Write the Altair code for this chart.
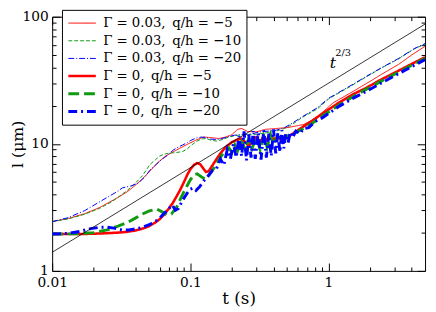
import altair as alt
import pandas as pd

FONT = "DejaVu Serif"

series_names = [
    "Γ = 0.03,\u2002q/h = −5",
    "Γ = 0.03,\u2002q/h = −10",
    "Γ = 0.03,\u2002q/h = −20",
    "Γ = 0,\u2002q/h = −5",
    "Γ = 0,\u2002q/h = −10",
    "Γ = 0,\u2002q/h = −20",
]
colors = ["#ff0000", "#129a12", "#0000ff", "#ff0000", "#129a12", "#0000ff"]
dashes = [[1, 0], [4, 2], [6, 2, 1, 2], [1, 0], [11, 5], [9, 4, 2, 4]]
widths = [1.0, 1.0, 1.0, 2.6, 3.0, 3.0]

t_a = [0.01, 0.013, 0.0172, 0.022, 0.0297, 0.035, 0.0389, 0.045, 0.051, 0.0573, 0.065, 0.0752,
       0.085, 0.095, 0.11, 0.125, 0.14, 0.16, 0.18, 0.2, 0.22, 0.235, 0.26, 0.3, 0.35, 0.42, 0.5,
       0.58, 0.66, 0.75, 0.83, 1.0, 1.08, 1.43, 2.0, 2.45, 3.2, 4.0, 5.0]
l_a = [2.44, 2.58, 2.82, 3.15, 3.76, 4.2, 4.6, 5.3, 6.1, 7.0, 7.9, 8.66,
       9.3, 9.9, 10.7, 11.3, 11.2, 11.0, 11.3, 11.8, 13.0, 13.2, 12.5, 12.4, 13.0, 13.2, 13.4,
       13.8, 14.2, 15.2, 16.3, 19.5, 21.0, 25.0, 31.0, 35.5, 42.0, 50.0, 58.5]

t_b = [0.01, 0.013, 0.017, 0.022, 0.027, 0.03, 0.035, 0.04, 0.045, 0.051, 0.056, 0.06, 0.065,
       0.07, 0.075, 0.08, 0.088, 0.095, 0.1, 0.11, 0.12, 0.13, 0.14, 0.155, 0.17, 0.19, 0.21, 0.24,
       0.28, 0.32, 0.37, 0.42, 0.48, 0.55, 0.65, 0.83, 1.0, 1.43, 2.0, 2.45, 3.2, 4.2, 5.0]
l_b = [2.44, 2.56, 2.78, 3.1, 3.5, 3.8, 4.3, 4.9, 5.6, 6.87, 7.5, 8.0, 8.3,
       8.45, 8.5, 8.55, 8.7, 9.1, 9.6, 10.4, 10.9, 11.0, 10.7, 10.5, 10.8, 11.3, 11.6, 11.8,
       11.8, 12.0, 12.3, 12.6, 13.2, 14.3, 16.2, 18.8, 22.5, 28.2, 35.0, 39.8, 46.5, 56.0, 61.0]

t_c = [0.01, 0.013, 0.0172, 0.0226, 0.0297, 0.0322, 0.037, 0.042, 0.047, 0.051, 0.056, 0.06,
       0.065, 0.07, 0.075, 0.08, 0.088, 0.095, 0.1, 0.11, 0.12, 0.13, 0.14, 0.155, 0.17, 0.19,
       0.21, 0.24, 0.28, 0.32, 0.37, 0.42, 0.48, 0.55, 0.65, 0.83, 1.0, 1.43, 2.0, 2.45, 3.2,
       4.2, 5.0]
l_c = [2.44, 2.62, 2.98, 3.55, 4.22, 4.5, 4.65, 4.9, 5.5, 6.2, 6.8, 7.3,
       7.8, 8.3, 8.9, 9.3, 9.8, 10.2, 10.6, 11.1, 11.3, 11.2, 10.9, 10.8, 11.0, 11.4,
       11.7, 11.8, 12.0, 12.4, 12.6, 12.8, 13.4, 14.6, 16.4, 19.2, 22.8, 28.5, 35.3, 40.0, 46.8,
       56.3, 61.5]

t_d = [0.01, 0.015, 0.02, 0.025, 0.03, 0.035, 0.04, 0.045, 0.05, 0.055, 0.06, 0.065, 0.07,
       0.075, 0.08, 0.085, 0.09, 0.095, 0.1, 0.106, 0.112, 0.118, 0.124, 0.13, 0.136, 0.145,
       0.155, 0.165, 0.18, 0.2, 0.22, 0.235, 0.25, 0.265, 0.28, 0.3, 0.32, 0.34, 0.36, 0.38,
       0.4, 0.43, 0.46, 0.5, 0.55, 0.6, 0.66, 0.75, 0.85, 1.0, 1.2, 1.5, 1.87, 2.4, 3.2, 4.0, 5.0]
l_d = [1.95, 1.95, 1.96, 1.98, 2.0, 2.03, 2.08, 2.15, 2.24, 2.38, 2.55, 2.8, 3.1,
       3.45, 3.9, 4.4, 5.0, 5.7, 6.3, 6.8, 7.05, 6.9, 6.4, 6.0, 6.1, 6.8,
       7.6, 8.4, 9.4, 10.3, 10.8, 11.0, 10.3, 9.6, 10.5, 11.3, 10.4, 11.5, 10.6, 11.8,
       10.8, 11.4, 10.6, 11.2, 12.0, 12.8, 13.7, 15.0, 16.5, 18.6, 21.2, 24.5, 27.5, 32.0, 37.5,
       42.5, 48.0]

t_e = [0.01, 0.015, 0.02, 0.025, 0.03, 0.035, 0.04, 0.045, 0.05, 0.057, 0.063, 0.068, 0.073,
       0.08, 0.085, 0.09, 0.095, 0.1, 0.106, 0.112, 0.12, 0.127, 0.135, 0.145, 0.155, 0.165,
       0.175, 0.19, 0.2, 0.21, 0.22, 0.235, 0.25, 0.265, 0.28, 0.3, 0.32, 0.34, 0.36, 0.38, 0.4,
       0.43, 0.46, 0.5, 0.55, 0.6, 0.66, 0.75, 0.85, 1.0, 1.2, 1.5, 1.87, 2.4, 3.2, 4.0, 5.0]
l_e = [1.95, 1.96, 2.0, 2.1, 2.25, 2.4, 2.6, 2.8, 2.95, 3.07, 2.9, 2.75, 2.8,
       3.2, 3.7, 4.2, 4.7, 5.2, 5.7, 5.8, 5.5, 5.3, 5.6, 6.2, 7.0, 7.8,
       8.6, 9.3, 8.6, 9.8, 8.8, 10.4, 9.0, 11.0, 9.2, 11.3, 9.0, 11.5, 9.4, 11.8, 9.8,
       11.6, 10.2, 11.5, 12.0, 12.5, 13.2, 14.3, 15.8, 17.8, 20.3, 23.5, 26.8, 31.0, 36.5,
       41.5, 47.0]

t_f = [0.01, 0.013, 0.016, 0.019, 0.022, 0.025, 0.028, 0.032, 0.036, 0.04, 0.045, 0.05, 0.055,
       0.06, 0.065, 0.07, 0.074, 0.078, 0.082, 0.088, 0.095, 0.1, 0.105, 0.11, 0.117, 0.125,
       0.135, 0.145, 0.155, 0.165, 0.175, 0.185, 0.195, 0.205, 0.215, 0.225, 0.235, 0.245,
       0.255, 0.265, 0.275, 0.285, 0.295, 0.31, 0.325, 0.34, 0.355, 0.37, 0.385, 0.4, 0.415,
       0.43, 0.445, 0.46, 0.475, 0.49, 0.51, 0.53, 0.55, 0.58, 0.62, 0.66, 0.72, 0.8, 0.9, 1.0,
       1.2, 1.5, 1.87, 2.4, 3.2, 4.0, 5.0]
l_f = [1.95, 1.97, 2.05, 2.15, 2.2, 2.21, 2.17, 2.1, 2.1, 2.14, 2.2, 2.3, 2.42,
       2.6, 2.85, 3.1, 3.3, 3.0, 3.1, 3.6, 4.1, 4.4, 4.5, 4.3, 4.6, 5.1,
       5.6, 6.2, 6.4, 7.6, 6.8, 9.0, 7.6, 10.0, 7.8, 11.5, 8.0, 12.5,
       7.4, 11.8, 7.8, 12.6, 7.6, 12.2, 7.5, 12.8, 7.8, 12.0, 8.0, 13.0, 8.4,
       12.2, 8.6, 12.8, 9.2, 12.0, 10.2, 12.4, 11.2, 12.6, 12.0, 13.2, 13.4, 15.0, 16.0, 17.3,
       19.8, 22.8, 25.8, 30.0, 35.5, 40.5, 46.0]

ref_t = [0.01, 5.0]
ref_l = [1.4, 87.5]

ann_t = [1.02]
ann_l = [39.5]
sup_t = [1.12]
sup_l = [49.0]

all_t = [t_a, t_b, t_c, t_d, t_e, t_f]
all_l = [l_a, l_b, l_c, l_d, l_e, l_f]
rows = []
for name, ts, ls in zip(series_names, all_t, all_l):
    for i, (t, l) in enumerate(zip(ts, ls)):
        rows.append({"series": name, "t": t, "l": l, "i": i})
df = pd.DataFrame(rows)
ref_df = pd.DataFrame({"t": ref_t, "l": ref_l})
ann_df = pd.DataFrame({"t": ann_t, "l": ann_l})
sup_df = pd.DataFrame({"t": sup_t, "l": sup_l})

W, H = 380, 259
xscale = alt.Scale(type="log", domain=[0.01, 5], nice=False)
yscale = alt.Scale(type="log", domain=[1, 100], nice=False)

x_major = [0.01, 0.1, 1]
x_minor = [0.02, 0.03, 0.04, 0.05, 0.06, 0.07, 0.08, 0.09,
           0.2, 0.3, 0.4, 0.5, 0.6, 0.7, 0.8, 0.9, 2, 3, 4]
y_major = [1, 10, 100]
y_minor = [2, 3, 4, 5, 6, 7, 8, 9, 20, 30, 40, 50, 60, 70, 80, 90]

legend = alt.Legend(title=None, orient="none", legendX=10, legendY=-7,
                    symbolType="stroke", symbolSize=784, labelFont=FONT,
                    labelFontSize=13.5, labelColor="black", strokeColor="black",
                    fillColor="white", padding=5, clipHeight=17, rowPadding=1,
                    labelOffset=6, labelLimit=300)

lines = alt.Chart(df).mark_line(clip=True).encode(
    x=alt.X("t:Q", scale=xscale,
            axis=alt.Axis(values=x_major, labelExpr="format(datum.value, '~g')",
                          ticks=False, tickSize=0, domain=False, grid=False,
                          labelPadding=5, labelFont=FONT, labelFontSize=14,
                          labelColor="black", title="t (s)", titleFont=FONT,
                          titleFontSize=17, titleFontWeight="normal",
                          titleColor="black", titlePadding=1,
                          labelFlush=False, labelOverlap=False)),
    y=alt.Y("l:Q", scale=yscale,
            axis=alt.Axis(values=y_major, labelExpr="format(datum.value, '~g')",
                          ticks=False, tickSize=0, domain=False, grid=False,
                          labelPadding=4, labelFont=FONT, labelFontSize=14,
                          labelColor="black", title="l (μm)", titleFont=FONT,
                          titleFontSize=16, titleFontWeight="normal",
                          titleColor="black", titleX=-27, titleBaseline="bottom",
                          labelFlush=False, labelOverlap=False)),
    color=alt.Color("series:N", scale=alt.Scale(domain=series_names, range=colors),
                    legend=legend),
    strokeDash=alt.StrokeDash("series:N", scale=alt.Scale(domain=series_names, range=dashes),
                              legend=legend),
    strokeWidth=alt.StrokeWidth("series:N",
                                scale=alt.Scale(type="ordinal", domain=series_names, range=widths),
                                legend=legend),
    order="i:Q",
)


def tick_layer(xvals, yvals, size, xorient, xoff, yorient, yoff):
    return alt.Chart(ref_df).mark_line(opacity=0).encode(
        x=alt.X("t:Q", scale=xscale,
                axis=alt.Axis(orient=xorient, offset=xoff, values=xvals, labels=False,
                              tickSize=size, tickColor="black", tickWidth=1,
                              domain=False, grid=False, title=None)),
        y=alt.Y("l:Q", scale=yscale,
                axis=alt.Axis(orient=yorient, offset=yoff, values=yvals, labels=False,
                              tickSize=size, tickColor="black", tickWidth=1,
                              domain=False, grid=False, title=None)),
    )


ticks1 = tick_layer(x_major, y_major, 8, "top", -H, "right", -W)
ticks2 = tick_layer(x_minor, y_minor, 4, "top", -H, "right", -W)
ticks3 = tick_layer(x_major, y_major, 8, "bottom", -H, "left", -W)
ticks4 = tick_layer(x_minor, y_minor, 4, "bottom", -H, "left", -W)

ref_line = alt.Chart(ref_df).mark_line(color="black", strokeWidth=0.8, clip=True).encode(
    x=alt.X("t:Q", scale=xscale, axis=None),
    y=alt.Y("l:Q", scale=yscale, axis=None),
)

ann = alt.Chart(ann_df).mark_text(text="t", font=FONT, fontSize=16,
                                  fontStyle="italic",
                                  align="left", baseline="alphabetic", color="black").encode(
    x=alt.X("t:Q", scale=xscale, axis=None),
    y=alt.Y("l:Q", scale=yscale, axis=None),
)
sup = alt.Chart(sup_df).mark_text(text="2/3", font=FONT, fontSize=10,
                                  align="left", baseline="alphabetic", color="black").encode(
    x=alt.X("t:Q", scale=xscale, axis=None),
    y=alt.Y("l:Q", scale=yscale, axis=None),
)

chart = alt.layer(lines, ref_line, ann, sup, ticks1, ticks2, ticks3, ticks4).resolve_axis(
    x="independent", y="independent"
).properties(
    width=W, height=H,
    padding={"left": 45, "top": 6, "right": 3, "bottom": 39},
    autosize=alt.AutoSizeParams(type="none"),
    background="white",
).configure(
    font=FONT,
    view=alt.ViewConfig(stroke="black", strokeWidth=1),
)

chart.save("out.html", embed_options={"renderer": "svg", "actions": False})
